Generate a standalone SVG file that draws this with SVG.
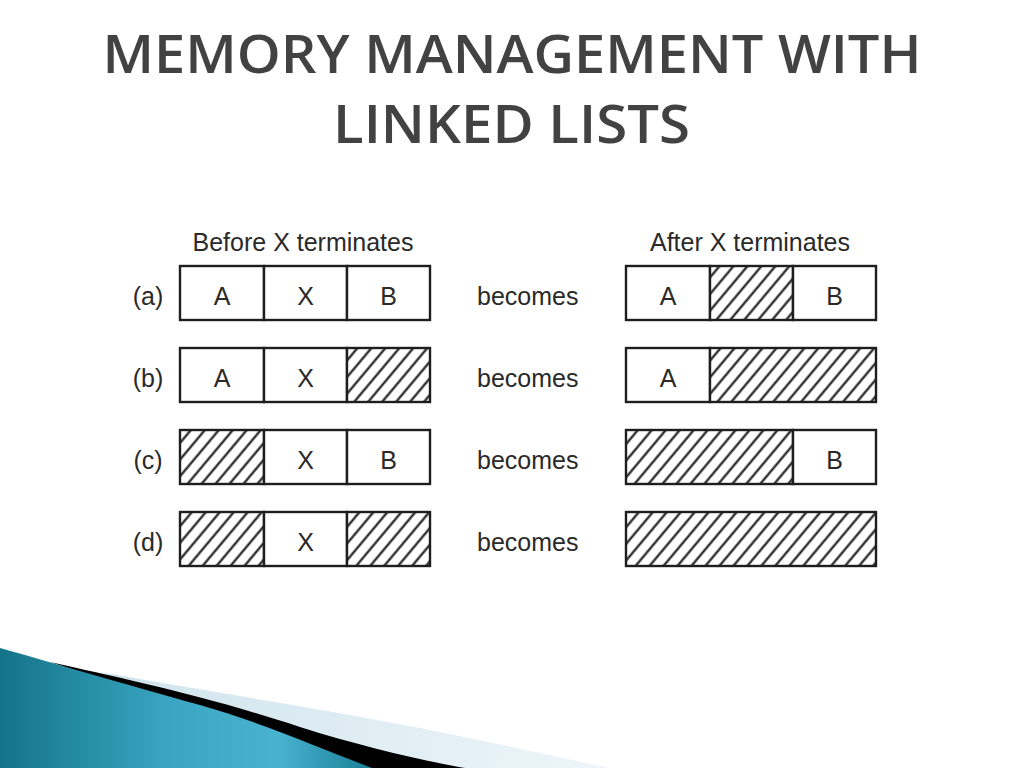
<svg xmlns="http://www.w3.org/2000/svg" width="1024" height="768" viewBox="0 0 1024 768">
<style>
.title{font-family:"Open Sans","DejaVu Sans",sans-serif;font-size:53px;font-weight:600;fill:#424242;text-anchor:middle}
.lbl{font-family:"Liberation Sans",Arial,sans-serif;font-size:25px;fill:#2a2a2a}
.mid{text-anchor:middle}
.box{fill:#fff;stroke:#1e1e1e;stroke-width:2.4}
.hat{fill:url(#hatch);stroke:#1e1e1e;stroke-width:2.4}
</style>
<defs>
<pattern id="hatch" patternUnits="userSpaceOnUse" width="10.7" height="20" patternTransform="rotate(40)">
<rect width="10.7" height="20" fill="#fff"/>
<line x1="5.35" y1="0" x2="5.35" y2="20" stroke="#1e1e1e" stroke-width="2.2"/>
</pattern>
<linearGradient id="teal" x1="0" y1="0" x2="1" y2="0">
<stop offset="0" stop-color="#137489"/>
<stop offset="0.45" stop-color="#3aa5c2"/>
<stop offset="0.75" stop-color="#49b2cf"/>
<stop offset="1" stop-color="#1a7f98"/>
</linearGradient>
<linearGradient id="pale" x1="0" y1="0" x2="1" y2="0">
<stop offset="0" stop-color="#cfe3ec"/>
<stop offset="1" stop-color="#eef6fa"/>
</linearGradient>
</defs>
<rect width="1024" height="768" fill="#fff"/>

<g id="title">
<text class="title" x="512" y="73" textLength="819" lengthAdjust="spacingAndGlyphs">MEMORY MANAGEMENT WITH</text>
<text class="title" x="511.5" y="143" textLength="357" lengthAdjust="spacingAndGlyphs">LINKED LISTS</text>
</g>

<g id="decoration">
<path d="M100,672 C200,690 300,705 420,728 C480,740 550,755 610,768 L380,768 Z" fill="url(#pale)"/>
<path d="M50,662 C120,678 200,694 300,727 C360,746 420,760 465,768 L370,768 Z" fill="#000"/>
<path d="M0,648 C50,662 120,683 200,705 C260,722 320,748 372,768 L0,768 Z" fill="url(#teal)"/>
</g>

<g id="headers">
<text class="lbl mid" x="303" y="251">Before X terminates</text>
<text class="lbl mid" x="750" y="251">After X terminates</text>
</g>

<g id="row-a">
<text class="lbl mid" x="148" y="305">(a)</text>
<rect class="box" x="180" y="266" width="84" height="54"/>
<rect class="box" x="264" y="266" width="83" height="54"/>
<rect class="box" x="347" y="266" width="83" height="54"/>
<text class="lbl mid" x="222" y="305">A</text>
<text class="lbl mid" x="305.5" y="305">X</text>
<text class="lbl mid" x="388.5" y="305">B</text>
<text class="lbl" x="477" y="305">becomes</text>
<rect class="box" x="626" y="266" width="84" height="54"/>
<rect class="hat" x="710" y="266" width="83" height="54"/>
<rect class="box" x="793" y="266" width="83" height="54"/>
<text class="lbl mid" x="668" y="305">A</text>
<text class="lbl mid" x="834.5" y="305">B</text>
</g>

<g id="row-b">
<text class="lbl mid" x="148" y="387">(b)</text>
<rect class="box" x="180" y="348" width="84" height="54"/>
<rect class="box" x="264" y="348" width="83" height="54"/>
<rect class="hat" x="347" y="348" width="83" height="54"/>
<text class="lbl mid" x="222" y="387">A</text>
<text class="lbl mid" x="305.5" y="387">X</text>
<text class="lbl" x="477" y="387">becomes</text>
<rect class="box" x="626" y="348" width="84" height="54"/>
<rect class="hat" x="710" y="348" width="166" height="54"/>
<text class="lbl mid" x="668" y="387">A</text>
</g>

<g id="row-c">
<text class="lbl mid" x="148" y="469">(c)</text>
<rect class="hat" x="180" y="430" width="84" height="54"/>
<rect class="box" x="264" y="430" width="83" height="54"/>
<rect class="box" x="347" y="430" width="83" height="54"/>
<text class="lbl mid" x="305.5" y="469">X</text>
<text class="lbl mid" x="388.5" y="469">B</text>
<text class="lbl" x="477" y="469">becomes</text>
<rect class="hat" x="626" y="430" width="167" height="54"/>
<rect class="box" x="793" y="430" width="83" height="54"/>
<text class="lbl mid" x="834.5" y="469">B</text>
</g>

<g id="row-d">
<text class="lbl mid" x="148" y="551">(d)</text>
<rect class="hat" x="180" y="512" width="84" height="54"/>
<rect class="box" x="264" y="512" width="83" height="54"/>
<rect class="hat" x="347" y="512" width="83" height="54"/>
<text class="lbl mid" x="305.5" y="551">X</text>
<text class="lbl" x="477" y="551">becomes</text>
<rect class="hat" x="626" y="512" width="250" height="54"/>
</g>

<g id="connectors"/>
</svg>
